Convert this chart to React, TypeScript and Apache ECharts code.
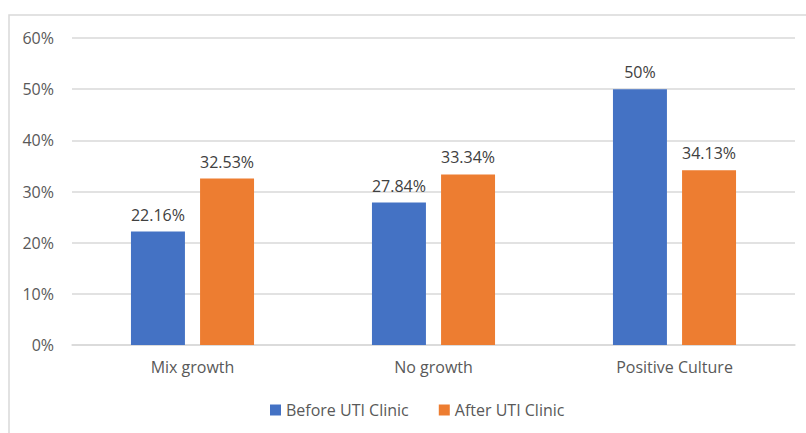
import React, { useEffect, useRef } from "react";
import * as echarts from "echarts";

const categories = ["Mix growth", "No growth", "Positive Culture"];
const beforeValues = [22.16, 27.84, 50];
const afterValues = [32.53, 33.34, 34.13];
const seriesNames = ["Before UTI Clinic", "After UTI Clinic"];

const FONT = "'Open Sans', 'Noto Sans', sans-serif";
const FS = 16;

export default function App() {
  const ref = useRef<HTMLDivElement>(null);
  useEffect(() => {
    if (!ref.current) return;
    const chart = echarts.init(ref.current, null, { renderer: "svg" });
    const label = {
      show: true,
      position: "top" as const,
      distance: 9,
      color: "#404040",
      fontSize: FS,
      fontFamily: FONT,
      formatter: (p: any) => `${p.value}%`,
    };
    chart.setOption({
      animation: false,
      backgroundColor: "#ffffff",
      textStyle: { fontFamily: FONT },
      graphic: [
        {
          type: "rect",
          shape: { x: 9, y: 15, width: 820, height: 440 },
          style: { fill: "none", stroke: "#d9d9d9", lineWidth: 1.5 },
          silent: true,
          z: -1,
        },
      ],
      grid: { left: 72, right: 11, top: 38, bottom: 88, containLabel: false },
      legend: {
        bottom: 10,
        left: 265,
        itemWidth: 11,
        itemHeight: 11,
        itemGap: 30,
        icon: "rect",
        textStyle: { color: "#595959", fontSize: FS, fontFamily: FONT },
        data: seriesNames,
      },
      xAxis: {
        type: "category",
        data: categories,
        axisLine: { lineStyle: { color: "#d9d9d9", width: 1.5 } },
        axisTick: { show: false },
        axisLabel: { color: "#595959", fontSize: FS, fontFamily: FONT, margin: 14 },
      },
      yAxis: {
        type: "value",
        min: 0,
        max: 60,
        interval: 10,
        axisLine: { show: false },
        axisTick: { show: false },
        splitLine: { lineStyle: { color: "#d9d9d9", width: 1.5 } },
        axisLabel: {
          color: "#595959",
          fontSize: FS,
          fontFamily: FONT,
          margin: 18,
          formatter: (v: number) => `${v}%`,
        },
      },
      series: [
        {
          name: seriesNames[0],
          type: "bar",
          data: beforeValues,
          barWidth: "22.4%",
          barGap: "28%",
          itemStyle: { color: "#4472C4" },
          label,
        },
        {
          name: seriesNames[1],
          type: "bar",
          data: afterValues,
          barWidth: "22.4%",
          itemStyle: { color: "#ED7D31" },
          label,
        },
      ],
    });
    return () => chart.dispose();
  }, []);
  return (
    <div
      ref={ref}
      style={{ position: "fixed", left: 0, top: 0, width: 806, height: 433 }}
    />
  );
}
